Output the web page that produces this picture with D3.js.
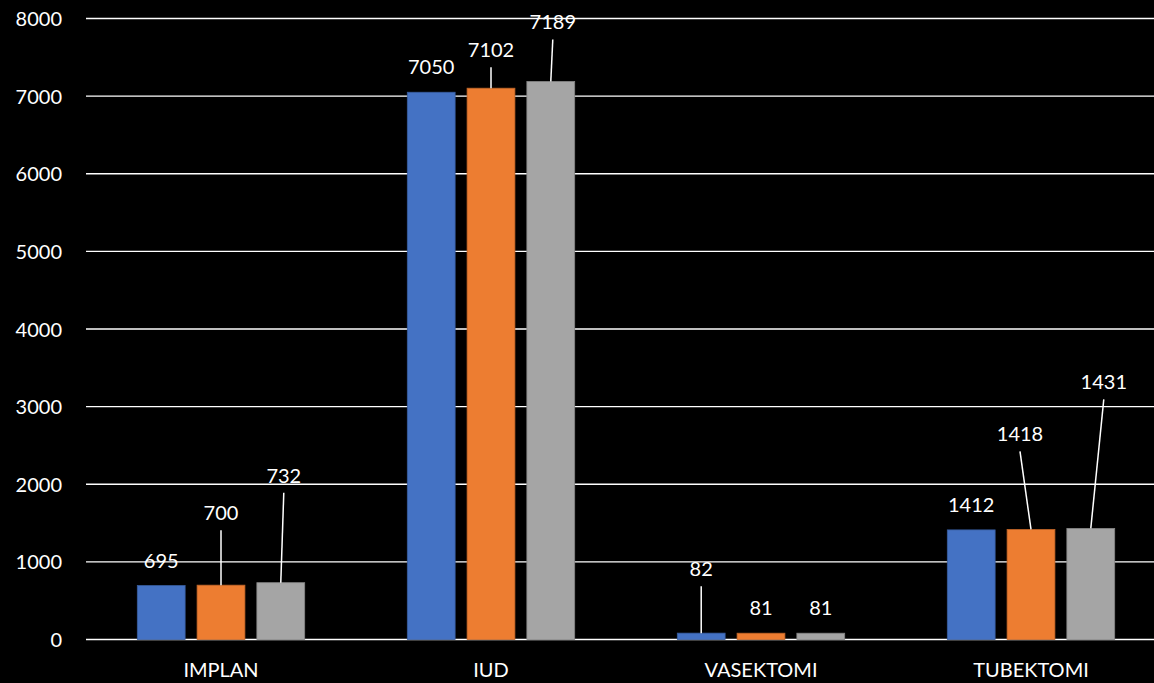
<!DOCTYPE html>
<html>
<head>
<meta charset="utf-8">
<script src="https://cdn.jsdelivr.net/npm/d3@7"></script>
<style>
  html, body { margin: 0; padding: 0; background: #000; }
  svg { display: block; }
</style>
</head>
<body>
<svg id="chart" width="1154" height="683"></svg>
<script>
// ---- data ----
const categories = ["IMPLAN", "IUD", "VASEKTOMI", "TUBEKTOMI"];
const seriesNames = ["Seri 1", "Seri 2", "Seri 3"];
const series1 = [695, 7050, 82, 1412];
const series2 = [700, 7102, 81, 1418];
const series3 = [732, 7189, 81, 1431];
const yTicks = [0, 1000, 2000, 3000, 4000, 5000, 6000, 7000, 8000];

// ---- layout / style (not data) ----
const colors = ["#4472C4", "#ED7D31", "#A5A5A5"];
// label offsets in px relative to default position [dx, dy, leader?]
const labelOffsets = [
  [[0, 0, false], [0, 0, false], [0, -39, true], [0, 0, false]],
  [[0, -47, true], [0, -13, true], [0, 0, false], [-11, -70, true]],
  [[3, -82, true], [2, -34, true], [0, 0, false], [13, -121, true]]
];

const W = 1154, H = 683;
const plotLeft = 86, plotRight = 1166, plotTop = 18.5, plotBottom = 639.5;
const svg = d3.select("#chart");
svg.append("rect").attr("width", W).attr("height", H).attr("fill", "#000");

const font = "Lato, 'Open Sans', sans-serif";

const x = d3.scaleBand().domain(categories).range([plotLeft, plotRight]).paddingInner(0.38).paddingOuter(0.19);
const xs = d3.scaleBand().domain(seriesNames).range([0, x.bandwidth()]).paddingInner(0.2);
const y = d3.scaleLinear().domain([0, 8000]).range([plotBottom, plotTop]);

// gridlines
svg.append("g").selectAll("line").data(yTicks).join("line")
  .attr("x1", plotLeft).attr("x2", plotRight)
  .attr("y1", d => y(d)).attr("y2", d => y(d))
  .attr("stroke", "#ffffff").attr("stroke-width", 1.4);

// y axis labels
const yAxis = d3.axisLeft(y).tickValues(yTicks).tickSize(0).tickPadding(0).tickFormat(d3.format("d"));
const gy = svg.append("g").attr("transform", `translate(62,0)`).call(yAxis);
gy.select(".domain").remove();
gy.selectAll("text").attr("fill", "#ffffff").attr("font-family", font).attr("font-size", 20).attr("dy", "0.35em");

// x axis labels
const xAxis = d3.axisBottom(x).tickSize(0).tickPadding(0);
const gx = svg.append("g").attr("transform", `translate(0,670)`).call(xAxis);
gx.select(".domain").remove();
gx.selectAll("text").attr("fill", "#ffffff").attr("font-family", font).attr("font-size", 20).attr("dy", "0.35em");

const allSeries = [series1, series2, series3];
allSeries.forEach((vals, si) => {
  const g = svg.append("g");
  g.selectAll("rect").data(vals).join("rect")
    .attr("x", (d, i) => x(categories[i]) + xs(seriesNames[si]))
    .attr("y", d => y(d))
    .attr("width", xs.bandwidth())
    .attr("height", d => y(0) - y(d))
    .attr("fill", colors[si])
    .attr("stroke", d3.color(colors[si]).darker(0.6))
    .attr("stroke-width", 0.8);

  vals.forEach((d, i) => {
    const cx = x(categories[i]) + xs(seriesNames[si]) + xs.bandwidth() / 2;
    const top = y(d);
    const [dx, dy, leader] = labelOffsets[si][i];
    const lx = cx + dx, ly = top - 18 + dy;
    if (leader) {
      g.append("line")
        .attr("x1", lx).attr("y1", ly + 10)
        .attr("x2", cx).attr("y2", top)
        .attr("stroke", "#ffffff").attr("stroke-width", 1.5);
    }
    g.append("text")
      .attr("x", lx).attr("y", ly)
      .attr("text-anchor", "middle")
      .attr("fill", "#ffffff")
      .attr("font-family", font).attr("font-size", 20)
      .text(d);
  });
});
</script>
</body>
</html>
